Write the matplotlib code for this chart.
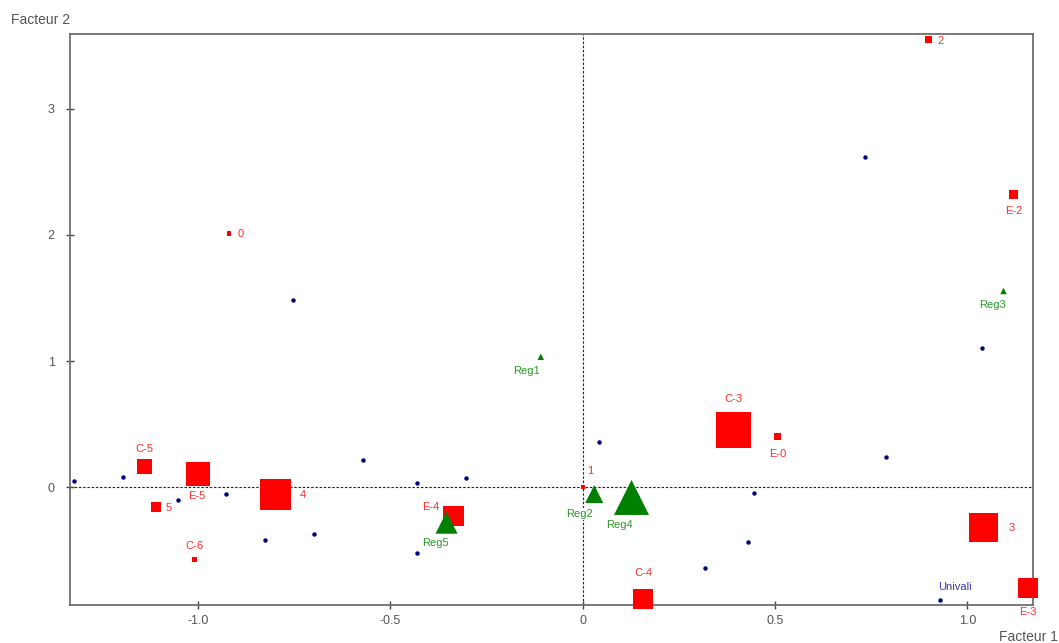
import matplotlib
matplotlib.use('Agg')
import matplotlib.pyplot as plt
import numpy as np

plt.rcParams['font.family'] = ['Liberation Sans', 'DejaVu Sans']

# individus (points bleus)
ind_x = [-1.323, -1.196, -1.053, -0.926, -0.825, -0.699, -0.572, -0.430, -0.304,
         -0.430, 0.042, 0.445, 0.431, 0.319, 0.789, 0.929, 0.734, 1.039, -0.754]
ind_y = [0.050, 0.082, -0.100, -0.055, -0.417, -0.372, 0.216, 0.032, 0.076,
         -0.523, 0.356, -0.048, -0.435, -0.636, 0.242, -0.892, 2.618, 1.105, 1.480]
ind_noms = ['', '', '', '', '', '', '', '', '', '', '', '', '', '', '', 'Univali', '', '', '']

# modalites (carres rouges)
mod_noms = ['C-5', 'E-5', '5', 'C-6', '4', 'E-4', '1', 'C-4', 'C-3', 'E-0',
            '3', 'E-3', '0', '2', 'E-2']
mod_x = [-1.139, -1.001, -1.108, -1.010, -0.799, -0.336, 0.000, 0.158, 0.392, 0.506,
         1.043, 1.157, -0.919, 0.898, 1.120]
mod_y = [0.163, 0.105, -0.153, -0.568, -0.055, -0.225, 0.005, -0.884, 0.454, 0.400,
         -0.320, -0.795, 2.011, 3.547, 2.320]
mod_poids = [15, 24, 10, 5, 31, 20.5, 4, 20, 35.5, 6.7, 29, 20, 4.5, 7, 9.5]

# regions (triangles verts)
reg_noms = ['Reg1', 'Reg2', 'Reg3', 'Reg4', 'Reg5']
reg_x = [-0.109, 0.030, 1.094, 0.127, -0.354]
reg_y = [1.034, -0.053, 1.555, -0.080, -0.280]
reg_poids = [6.5, 18, 6.5, 35, 22]

# decalage des etiquettes (pixels, droite / bas)
decal = {
    'C-5': (0, -18), 'E-5': (-1, 22), '5': (12, 1), 'C-6': (0, -13), '4': (27, 1),
    'E-4': (-23, -9), '1': (8, -16), 'C-4': (0, -26), 'C-3': (0, -31), 'E-0': (0, 17),
    '3': (28, 0), 'E-3': (0, 24), '0': (12, 1), '2': (12, 2), 'E-2': (0, 17),
    'Reg1': (-14, 14), 'Reg2': (-15, 20), 'Reg3': (-11, 14), 'Reg4': (-12, 28),
    'Reg5': (-11, 20), 'Univali': (15, -13),
}

px = 72.0 / 100  # pixels -> points
gris = '#6e6e6e'

fig = plt.figure(figsize=(10.59, 6.43), dpi=100)
ax = fig.add_axes([0.0661, 0.0591, 0.9093, 0.888])
ax.set_xlim(-1.3328, 1.1705)
ax.set_ylim(-0.9317, 3.590)

ax.axhline(0, color='#222222', lw=0.8, dashes=(2.2, 1.6), zorder=1)
ax.axvline(0, color='#222222', lw=0.8, dashes=(2.2, 1.6), zorder=1)

def etiquette(nom, x, y, couleur):
    dx, dy = decal[nom]
    ax.annotate(nom, (x, y), xytext=(dx * px, -dy * px), textcoords='offset points',
                ha='center', va='center', fontsize=8, color=couleur,
                annotation_clip=False, zorder=3,
                bbox=dict(boxstyle='square,pad=0.1', fc='white', ec='none'))

ax.scatter(ind_x, ind_y, s=3.2**2, marker='o', color='#000080', linewidths=0,
           zorder=4, clip_on=False)
for nom, x, y in zip(ind_noms, ind_x, ind_y):
    if nom:
        etiquette(nom, x, y, '#3a3aa8')

ax.scatter(mod_x, mod_y, s=(np.array(mod_poids) * px) ** 2, marker='s', color='#ff0000',
           linewidths=0, zorder=5, clip_on=False)
for nom, x, y in zip(mod_noms, mod_x, mod_y):
    etiquette(nom, x, y, '#ff2a2a')

ax.scatter(reg_x, reg_y, s=(np.array(reg_poids) * px) ** 2, marker='^', color='#008000',
           linewidths=0, zorder=6, clip_on=False)
for nom, x, y in zip(reg_noms, reg_x, reg_y):
    etiquette(nom, x, y, '#2a962a')

for s in ax.spines.values():
    s.set_color(gris)
    s.set_linewidth(1.3)
    s.set_zorder(2)

ax.set_xticks([-1.0, -0.5, 0, 0.5, 1.0])
ax.set_xticklabels(['-1.0', '-0.5', '0', '0.5', '1.0'])
ax.set_yticks([0, 1, 2, 3])
ax.set_yticklabels(['0', '1', '2', '3'])
ax.tick_params(direction='inout', length=6, width=1, color='#444444',
               labelcolor='#555555', labelsize=9)
ax.tick_params(axis='x', pad=4)
ax.tick_params(axis='y', pad=8)

fig.text(11 / 1059, 1 - 20 / 643, 'Facteur 2', ha='left', va='center',
         fontsize=10, color='#555555')
fig.text(1058 / 1059, 1 - 637 / 643, 'Facteur 1', ha='right', va='center',
         fontsize=10, color='#555555')

plt.savefig('out.png', dpi=100)
